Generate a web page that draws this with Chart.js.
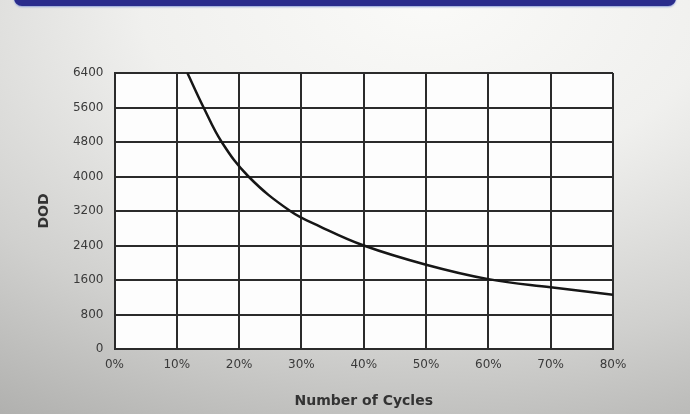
<!DOCTYPE html>
<html>
<head>
<meta charset="utf-8">
<script src="https://cdn.jsdelivr.net/npm/chart.js@4.4.0/dist/chart.umd.min.js"></script>
<style>
  html, body { margin: 0; padding: 0; }
  body {
    width: 690px; height: 414px; position: relative; overflow: hidden;
    background: radial-gradient(ellipse 820px 500px at 62% 0%, #fafaf8 0%, #f0f0ee 35%, #d0d0ce 70%, #aeaeac 100%);
  }
  #band {
    position: absolute; left: 14px; top: -2px; width: 662px; height: 8px;
    background: #2a2c8c; border-radius: 0 0 9px 9px;
    box-shadow: 0 1px 2px #8ea0d8;
  }
  #wrap { position: absolute; left: 0; top: 0; width: 690px; height: 414px; }
</style>
</head>
<body>
<div id="band"></div>
<div id="wrap"><canvas id="cycleChart" width="690" height="414"></canvas></div>
<script>
// depth of discharge curve
const cyclePct = [11.7, 14.3, 17.2, 21.5, 28.2, 33, 40, 50, 60, 70, 80];
const dodValues = [6400, 5600, 4800, 4000, 3200, 2840, 2400, 1955, 1620, 1430, 1260];
const xTicks = [0, 10, 20, 30, 40, 50, 60, 70, 80];
const yTicks = [0, 800, 1600, 2400, 3200, 4000, 4800, 5600, 6400];

const plotBg = {
    id: 'plotBg',
    beforeDraw(chart) {
        const { ctx, chartArea: a } = chart;
        ctx.save();
        ctx.fillStyle = '#fdfdfd';
        ctx.fillRect(a.left, a.top, a.right - a.left, a.bottom - a.top);
        ctx.restore();
    }
};

const tickFont = { family: 'DejaVu Sans', size: 12 };
const titleFont = { family: 'DejaVu Sans', size: 14, weight: 'bold' };
const gridStyle = { color: '#2b2b2b', lineWidth: 2, drawTicks: false };

new Chart(document.getElementById('cycleChart'), {
    type: 'line',
    data: {
        datasets: [{
            data: cyclePct.map((x, i) => ({ x: x, y: dodValues[i] })),
            borderColor: '#161616',
            borderWidth: 2.5,
            pointRadius: 0,
            tension: 0.4,
            fill: false,
        }],
    },
    options: {
        responsive: false,
        animation: false,
        layout: { padding: { left: 30, top: 73, right: 77, bottom: 0 } },
        plugins: { legend: { display: false }, tooltip: { enabled: false } },
        scales: {
            x: {
                type: 'linear', min: 0, max: 80,
                afterBuildTicks: s => { s.ticks = xTicks.map(v => ({ value: v })); },
                afterFit: s => { s.height = 65; },
                grid: gridStyle,
                border: { color: '#2b2b2b', width: 2 },
                ticks: { font: tickFont, color: '#3a3a3a', padding: 9, callback: v => v + '%' },
                title: { display: true, text: 'Number of Cycles', font: titleFont, color: '#333', padding: { top: 0, bottom: 4 } },
            },
            y: {
                min: 0, max: 6400,
                afterBuildTicks: s => { s.ticks = yTicks.map(v => ({ value: v })); },
                afterFit: s => { s.width = 84.5; },
                grid: gridStyle,
                border: { color: '#2b2b2b', width: 2 },
                ticks: { font: tickFont, color: '#3a3a3a', padding: 11, callback: v => String(v) },
                title: { display: true, text: 'DOD', font: titleFont, color: '#333', padding: { top: 6, bottom: 0 } },
            },
        },
    },
    plugins: [plotBg],
});
</script>
</body>
</html>
